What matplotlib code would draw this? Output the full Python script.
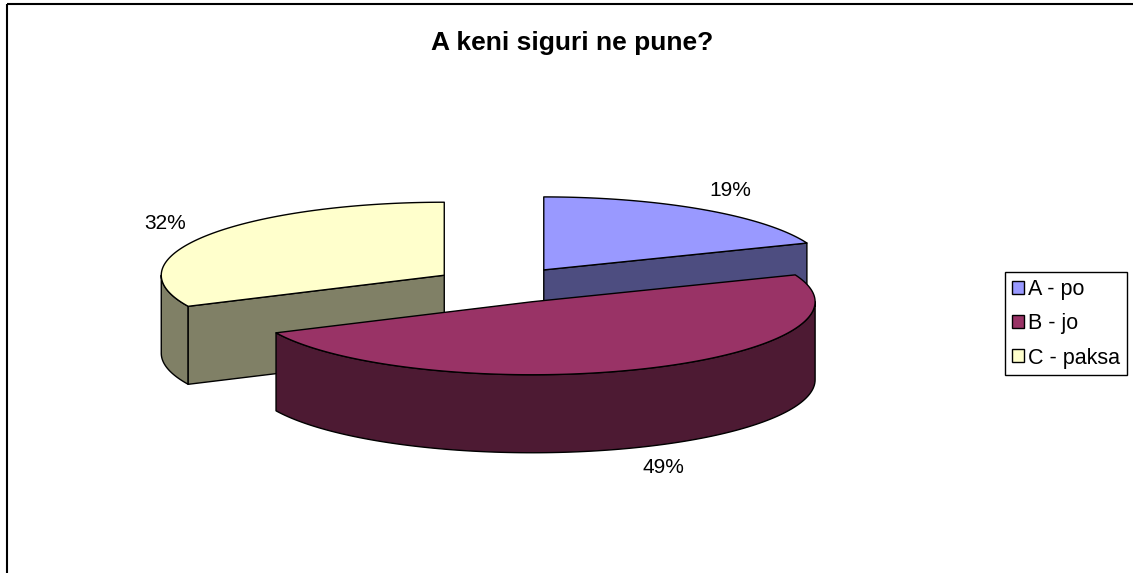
import numpy as np
import matplotlib
matplotlib.use("Agg")
import matplotlib.pyplot as plt
from matplotlib.patches import Polygon, Rectangle, Patch

plt.rcParams["font.family"] = ["Liberation Sans", "DejaVu Sans"]

TITLE = "A keni siguri ne pune?"
CATEGORIES = ["A - po", "B - jo", "C - paksa"]
VALUES = [19, 49, 32]
TOP_COLORS = ["#9999FF", "#993366", "#FFFFCC"]

# ── geometry of the tilted pie (pixel units) ─────────────────────────────────
W, H = 1133, 573
X0, Y0 = 504, 285        # centre of the un-exploded pie
RX, RY = 283, 73         # ellipse radii of the top face
DEPTH = 78               # thickness of the pie
EXPLODE = 0.25           # explosion, as fraction of the radius
SHADE = 0.5              # side faces are darker


def proj(cx, cy, r, th, h):
    return cx + RX * r * np.sin(th), cy - RY * r * np.cos(th) + DEPTH * h


def darker(c, f):
    rgb = np.array(matplotlib.colors.to_rgb(c))
    return tuple(rgb * f)


fig = plt.figure(figsize=(W / 100, H / 100), dpi=100)
ax = fig.add_axes([0, 0, 1, 1])
ax.set_xlim(0, W)
ax.set_ylim(H, 0)
ax.axis("off")

# chart border (only top and left are inside the picture)
ax.add_patch(Rectangle((7, 4), W + 50, H + 50, fill=False, ec="black", lw=1.5))

fracs = np.array(VALUES, dtype=float) / sum(VALUES)
ends = np.cumsum(fracs) * 2 * np.pi
starts = ends - fracs * 2 * np.pi

slices = []
for i, (t0, t1) in enumerate(zip(starts, ends)):
    mid = (t0 + t1) / 2
    cx = X0 + RX * EXPLODE * np.sin(mid)
    cy = Y0 - RY * EXPLODE * np.cos(mid)
    slices.append((cy, i, t0, t1, cx, mid))

edge = dict(ec="black", lw=1.0, joinstyle="round")

# paint from back to front
for cy, i, t0, t1, cx, mid in sorted(slices):
    top = TOP_COLORS[i]
    side = darker(top, SHADE)

    # outer curved wall, only the front half is visible
    a, b = max(t0, np.pi / 2), min(t1, 1.5 * np.pi)
    if b > a:
        th = np.linspace(a, b, 120)
        xt, yt = proj(cx, cy, 1, th, 0)
        xb, yb = proj(cx, cy, 1, th[::-1], 1)
        ax.add_patch(Polygon(np.column_stack([np.r_[xt, xb], np.r_[yt, yb]]),
                             closed=True, fc=side, **edge))

    # radial walls facing the viewer
    for phi, visible in ((t0, np.sin(t0) < -1e-9), (t1, np.sin(t1) > 1e-9)):
        if visible:
            pts = [proj(cx, cy, 0, phi, 0), proj(cx, cy, 1, phi, 0),
                   proj(cx, cy, 1, phi, 1), proj(cx, cy, 0, phi, 1)]
            ax.add_patch(Polygon(pts, closed=True, fc=side, **edge))

    # top face
    th = np.linspace(t0, t1, 200)
    xt, yt = proj(cx, cy, 1, th, 0)
    pts = np.column_stack([np.r_[cx, xt], np.r_[cy, yt]])
    ax.add_patch(Polygon(pts, closed=True, fc=top, **edge))

# percentage labels
for cy, i, t0, t1, cx, mid in slices:
    lx = cx + RX * 1.17 * np.sin(mid)
    ly = cy - RY * 1.31 * np.cos(mid) + (DEPTH if np.cos(mid) < 0 else 0)
    ax.text(lx, ly, f"{fracs[i] * 100:.0f}%", ha="center", va="center",
            fontsize=15, color="black")

ax.text(572, 43, TITLE, ha="center", va="center", fontsize=19,
        fontweight="bold", color="black")

handles = [Patch(fc=c, ec="black", lw=1.0) for c in TOP_COLORS]
leg = fig.legend(handles, CATEGORIES, loc="upper left",
                 bbox_to_anchor=(1005 / W, 1 - 272 / H), frameon=True,
                 fancybox=False, framealpha=1, edgecolor="black",
                 fontsize=15.5, handlelength=0.55, handleheight=0.55,
                 handletextpad=0.2, labelspacing=0.62, borderpad=0.32,
                 borderaxespad=0)
leg.get_frame().set_linewidth(1.0)

fig.savefig("out.png", dpi=100)
